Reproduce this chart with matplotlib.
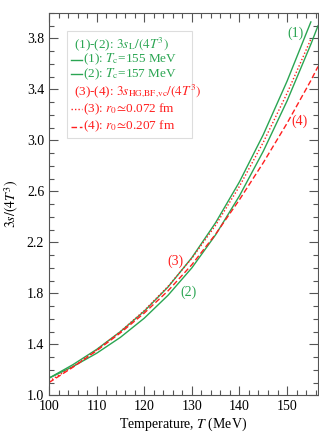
import numpy as np
import matplotlib
matplotlib.use("Agg")
import matplotlib.pyplot as plt
from matplotlib.ticker import MultipleLocator
from matplotlib.patches import Rectangle

plt.rcParams['font.family'] = ['Liberation Serif', 'DejaVu Serif']
plt.rcParams['mathtext.fontset'] = 'stix'

# Temperaturas (MeV) y valores de 3s/(4T^3)
T_1 = [100, 105, 110, 115, 120, 125, 130, 135, 140, 145, 150, 155]
s_1 = [1.135, 1.24, 1.36, 1.50, 1.66, 1.85, 2.08, 2.355, 2.675, 3.045, 3.465, 3.93]

T_2 = [100, 105, 110, 115, 120, 125, 130, 135, 140, 145, 150, 155, 156.5]
s_2 = [1.135, 1.225, 1.33, 1.455, 1.605, 1.785, 2.00, 2.26, 2.565, 2.915, 3.31, 3.755, 3.90]

T_3 = [100, 105, 110, 115, 120, 125, 130, 135, 140, 145, 150, 155]
s_3 = [1.11, 1.225, 1.355, 1.50, 1.665, 1.855, 2.075, 2.335, 2.64, 2.985, 3.37, 3.795]

T_4 = [100, 105, 110, 115, 120, 125, 130, 135, 140, 145, 150, 155, 156.5]
s_4 = [1.10, 1.22, 1.35, 1.49, 1.645, 1.82, 2.025, 2.265, 2.535, 2.825, 3.135, 3.47, 3.58]

verde = "#2aa552"
rojo = "#ff1f1f"
gris = "#555555"

fig = plt.figure(figsize=(3.19, 4.36), dpi=100)
ax = fig.add_axes([0.1536, 0.0933, 0.8433, 0.8769])

ax.plot(T_1, s_1, color=verde, lw=1.0)
ax.plot(T_2, s_2, color=verde, lw=1.0)
ax.plot(T_3, s_3, color=rojo, lw=1.0, ls=(0, (1, 1.5)))
ax.plot(T_4, s_4, color=rojo, lw=1.0, ls=(0, (4, 2)))

# Etiquetas de las curvas
ax.text(151.7, 3.84, "(1)", color=verde, fontsize=10, ha="center", va="center")
ax.text(129.2, 1.81, "(2)", color=verde, fontsize=10, ha="center", va="center")
ax.text(126.5, 2.05, "(3)", color=rojo, fontsize=10, ha="center", va="center")
ax.text(152.7, 3.15, "(4)", color=rojo, fontsize=10, ha="center", va="center")

ax.set_xlim(100, 156.5)
ax.set_ylim(1.0, 4.0)
ax.xaxis.set_major_locator(MultipleLocator(10))
ax.xaxis.set_minor_locator(MultipleLocator(2))
ax.yaxis.set_major_locator(MultipleLocator(0.4, offset=0.2))
ax.yaxis.set_minor_locator(MultipleLocator(0.1))
ax.tick_params(which="both", direction="in", top=True, right=True, color=gris, labelsize=10)
ax.tick_params(which="major", length=6.5, width=0.8)
ax.tick_params(which="minor", length=3.5, width=0.8)
for sp in ax.spines.values():
    sp.set_color(gris)
    sp.set_linewidth(0.8)

ax.set_xlabel(r"Temperature, $T$ (MeV)", fontsize=10, labelpad=2)
ax.set_ylabel(r"$3s/(4T^3)$", fontsize=10, labelpad=4)

# Leyenda dibujada a mano
ax.add_patch(Rectangle((0.067, 0.673), 0.465, 0.28, transform=ax.transAxes,
                       facecolor="white", edgecolor="#dddddd", lw=0.8, zorder=3))
filas = [
    (0.919, r"(1)-(2): $3s_{\rm L}/(4T^3)$", verde, None),
    (0.878, r"(1): $T_{\rm c}$=155 MeV", verde, "-"),
    (0.840, r"(2): $T_{\rm c}$=157 MeV", verde, "-"),
    (0.796, r"(3)-(4): $3s_{\rm HG{,}BF{,}vc}/(4T^3)$", rojo, None),
    (0.749, r"(3): $r_0\!\simeq\!$0.072 fm", rojo, (0, (1, 1.5))),
    (0.703, r"(4): $r_0\!\simeq\!$0.207 fm", rojo, (0, (4, 2))),
]
for y, texto, color, estilo in filas:
    if estilo is None:
        ax.text(0.093, y, texto, color=color, fontsize=9.5, transform=ax.transAxes,
                va="center", ha="left", zorder=4)
    else:
        ax.plot([0.082, 0.123], [y, y], color=color, ls=estilo, lw=1.0,
                transform=ax.transAxes, zorder=4)
        ax.text(0.126, y, texto, color=color, fontsize=9.5, transform=ax.transAxes,
                va="center", ha="left", zorder=4)

fig.savefig("out.png", dpi=100)
